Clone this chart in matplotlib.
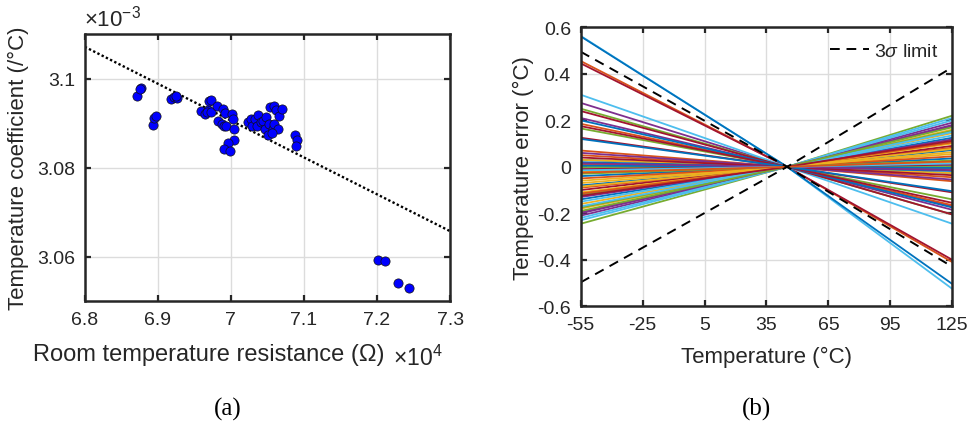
import matplotlib
matplotlib.use("Agg")
import matplotlib.pyplot as plt
from matplotlib.lines import Line2D

plt.rcParams["font.family"] = ["Liberation Sans", "DejaVu Sans"]
plt.rcParams["mathtext.fontset"] = "custom"
plt.rcParams["mathtext.rm"] = "Liberation Sans"
plt.rcParams["mathtext.it"] = "Liberation Sans:italic"
plt.rcParams["axes.unicode_minus"] = False

# ---- (a) room-temperature resistance vs temperature coefficient ----
resistance_e4 = [
    6.8712, 6.8771, 6.8762, 6.8931, 6.8949, 6.8972, 6.9177, 6.9223, 6.9264, 6.9245,
    6.9592, 6.9647, 6.9693, 6.9706, 6.9734, 6.9679, 6.9729, 6.9816, 6.9829, 6.9875,
    6.9898, 6.9925, 6.9907, 6.9930, 7.0021, 7.0035, 7.0048, 7.0039, 6.9957, 6.9911,
    6.9989, 7.0240, 7.0276, 7.0295, 7.0331, 7.0368, 7.0354, 7.0409, 7.0445, 7.0468,
    7.0482, 7.0514, 7.0527, 7.0536, 7.0582, 7.0596, 7.0596, 7.0614, 7.0651, 7.0655,
    7.0701, 7.0568, 7.0879, 7.0901, 7.0888, 7.2010, 7.2115, 7.2293, 7.2443,
]
tempco_e3 = [
    3.09618, 3.09790, 3.09760, 3.08951, 3.09124, 3.09154, 3.09551, 3.09581, 3.09566, 3.09603,
    3.09266, 3.09214, 3.09288, 3.09491, 3.09521, 3.09251, 3.09251, 3.09378, 3.09049, 3.08989,
    3.09326, 3.09229, 3.08929, 3.08936, 3.09199, 3.09086, 3.08876, 3.08629, 3.08554, 3.08420,
    3.08375, 3.09026, 3.09086, 3.08929, 3.09101, 3.09176, 3.08936, 3.09026, 3.09041, 3.08876,
    3.09139, 3.08727, 3.08974, 3.09363, 3.08862, 3.09378, 3.08974, 3.09288, 3.08876, 3.09161,
    3.09311, 3.08787, 3.08734, 3.08622, 3.08494, 3.05940, 3.05903, 3.05424, 3.05304,
]
fit_x = [6.8, 7.3]
fit_y = [3.10712, 3.06577]

# ---- (b) temperature error of each sensor ----
temps = [-55, 45, 125]
err_cold = [
    0.030, 0.455, 0.030, 0.275, 0.250, 0.563, 0.445, 0.561, 0.185, -0.020,
    0.210, 0.165, 0.310, 0.240, 0.200, 0.070, -0.060, -0.210, -0.245, -0.230,
    0.175, -0.140, 0.050, -0.160, -0.200, -0.120, -0.220, 0.125, 0.020, -0.090,
    -0.180, 0.060, -0.175, -0.005, -0.100, -0.080, 0.010, -0.110, -0.130, 0.000,
    -0.150, 0.040, -0.040, -0.050, -0.070, -0.195, -0.030, -0.170, -0.010, 0.005,
    -0.115, -0.085, 0.015, -0.190, -0.015, -0.125, 0.120, -0.025,
]
err_hot = [
    -0.027, -0.410, -0.027, -0.170, -0.205, -0.525, -0.400, -0.504, -0.165, 0.018,
    -0.185, -0.140, -0.245, -0.205, -0.175, -0.062, 0.055, 0.190, 0.220, 0.210,
    -0.155, 0.125, -0.045, 0.145, 0.180, 0.110, 0.200, -0.110, -0.018, 0.082,
    0.160, -0.055, 0.155, 0.004, 0.090, 0.072, -0.009, 0.100, 0.118, 0.000,
    0.135, -0.036, 0.036, 0.045, 0.063, 0.175, 0.027, 0.150, 0.009, -0.005,
    0.105, 0.077, -0.014, 0.170, 0.014, 0.112, -0.105, 0.023,
]
sigma_upper = [0.495, 0.0, -0.430]
sigma_lower = [-0.497, 0.0, 0.428]

matlab_colors = ["#0072BD", "#D95319", "#EDB120", "#7E2F8E",
                 "#77AC30", "#4DBEEE", "#A2142F"]
ink = "#262626"

fig = plt.figure(figsize=(9.74, 4.27), dpi=100)
ax1 = fig.add_axes([0.0870, 0.2916, 0.3751, 0.6265])
ax2 = fig.add_axes([0.5962, 0.2803, 0.3815, 0.6534])


def style(ax):
    for s in ax.spines.values():
        s.set_linewidth(1.8)
        s.set_color(ink)
    ax.tick_params(direction="in", length=4, width=1.6, top=True, right=True,
                   labelsize=14, colors=ink, pad=7)
    ax.grid(True, color="#dcdcdc", linewidth=1.0)
    ax.set_axisbelow(True)


# (a)
style(ax1)
ax1.plot(fit_x, fit_y, linestyle=(0, (1, 1)), color="black", linewidth=1.7, zorder=2)
ax1.scatter(resistance_e4, tempco_e3, s=44, color="#0000FF", edgecolors="#101010",
            linewidths=0.5, zorder=3)
ax1.set_xlim(6.8, 7.3)
ax1.set_ylim(3.05, 3.11)
ax1.set_xticks([6.8, 6.9, 7.0, 7.1, 7.2, 7.3])
ax1.set_xticklabels(["6.8", "6.9", "7", "7.1", "7.2", "7.3"])
ax1.set_yticks([3.06, 3.08, 3.10])
ax1.set_yticklabels(["3.06", "3.08", "3.1"])
ax1.set_xlabel("Room temperature resistance (Ω)", fontsize=17, color=ink)
ax1.xaxis.set_label_coords(0.340, -0.155)
ax1.set_ylabel("Temperature coefficient (/°C)", fontsize=16, color=ink, labelpad=6)
fig.text(0.086, 0.937, r"$\times$10$^{-3}$", fontsize=16, color=ink,
         ha="left", va="baseline")
fig.text(0.403, 0.142, r"$\times$10$^{4}$", fontsize=16.5, color=ink,
         ha="left", va="baseline")

# (b)
style(ax2)
ax2.set_prop_cycle(color=matlab_colors)
for lo, hi in zip(err_cold, err_hot):
    ax2.plot(temps, [lo, 0.0, hi], linewidth=1.3)
dash = dict(color="black", linewidth=1.4, dashes=(5, 3.5))
ax2.plot(temps, sigma_upper, **dash)
ax2.plot(temps, sigma_lower, **dash)
ax2.set_xlim(-55, 125)
ax2.set_ylim(-0.6, 0.6)
ax2.set_xticks([-55, -25, 5, 35, 65, 95, 125])
ax2.set_xticklabels(["-55", "-25", "5", "35", "65", "95", "125"])
ax2.set_yticks([-0.6, -0.4, -0.2, 0, 0.2, 0.4, 0.6])
ax2.set_yticklabels(["-0.6", "-0.4", "-0.2", "0", "0.2", "0.4", "0.6"])
ax2.set_xlabel("Temperature (°C)", fontsize=16, color=ink, labelpad=9)
ax2.set_ylabel("Temperature error (°C)", fontsize=16, color=ink, labelpad=2)
handle = Line2D([], [], **dash)
leg = ax2.legend([handle], [r"3$\sigma$ limit"], loc="upper right", frameon=False,
                 fontsize=14, handlelength=2.0, handletextpad=0.3,
                 borderaxespad=0.0, bbox_to_anchor=(0.985, 0.975))
for t in leg.get_texts():
    t.set_color(ink)

fig.text(0.234, 0.015, "(a)", fontsize=18, family="Liberation Serif", ha="center", va="bottom")
fig.text(0.777, 0.015, "(b)", fontsize=18, family="Liberation Serif", ha="center", va="bottom")

fig.savefig("out.png", dpi=100)
